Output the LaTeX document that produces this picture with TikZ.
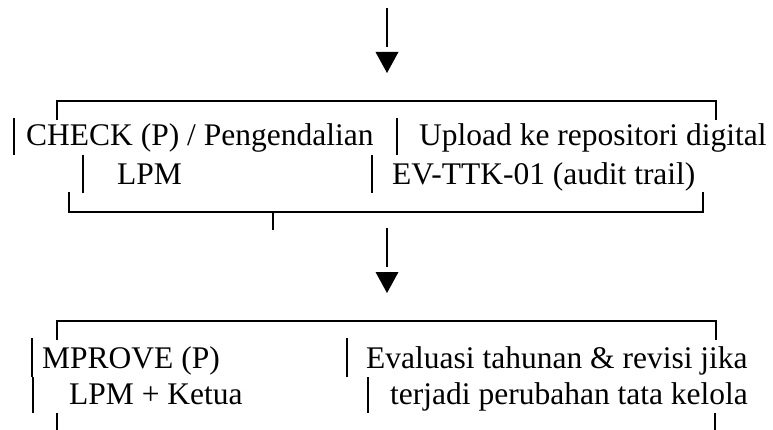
\documentclass[tikz,border=0pt]{standalone}
\usepackage{fontspec}
\setmainfont{Liberation Serif}

\begin{document}
\begin{tikzpicture}[x=1pt, y=-1pt,
    txt/.style={anchor=base west, inner sep=0pt, font=\fontsize{31.5}{36}\selectfont},
    vbar/.style={line width=2.6pt},
    brk/.style={line width=2pt},
    headtri/.style={fill=black}]
  \useasboundingbox (0,0) rectangle (773,430);

  % arrow into CHECK
  \coordinate (in1) at (387,8);
  \coordinate (in1end) at (387,47);
  \draw[brk] (in1) -- (in1end);
  \path[headtri] (375.5,52) -- (398.5,52) -- (387,73) -- cycle;

  % CHECK block
  \draw[brk] (57,120) -- (57,101) -- (716,101) -- (716,120);
  \node[txt] (check) at (26,146) {CHECK (P) / Pengendalian};
  \node[txt] (upload) at (419,146) {Upload ke repositori digital};
  \node[txt] (lpm) at (117,184.5) {LPM};
  \node[txt] (ev) at (392,184.5) {EV-TTK-01 (audit trail)};
  \draw[vbar] (14,118) -- (14,155);
  \draw[vbar] (397,118) -- (397,155);
  \draw[vbar] (83,155) -- (83,193);
  \draw[vbar] (372,155) -- (372,193);
  \draw[brk] (69,192) -- (69,212) -- (703,212) -- (703,192);
  \draw[brk] (273,212) -- (273,230);

  % arrow into IMPROVE
  \coordinate (in2) at (387,228);
  \coordinate (in2end) at (387,267);
  \draw[brk] (in2) -- (in2end);
  \path[headtri] (375.5,272) -- (398.5,272) -- (387,293) -- cycle;

  % IMPROVE block
  \draw[brk] (57,340) -- (57,321) -- (716,321) -- (716,340);
  \node[txt] (improve) at (42,368) {MPROVE (P)};
  \node[txt] (evaluasi) at (366,368) {Evaluasi tahunan \& revisi jika};
  \node[txt] (ketua) at (69,404) {LPM + Ketua};
  \node[txt] (tatakelola) at (390,404) {terjadi perubahan tata kelola};
  \draw[vbar] (32,338) -- (32,377);
  \draw[vbar] (33,377) -- (33,413);
  \draw[vbar] (347,338) -- (347,377);
  \draw[vbar] (368,377) -- (368,413);
  \draw[brk] (57,413) -- (57,430);
  \draw[brk] (715,413) -- (715,430);
\end{tikzpicture}
\end{document}
